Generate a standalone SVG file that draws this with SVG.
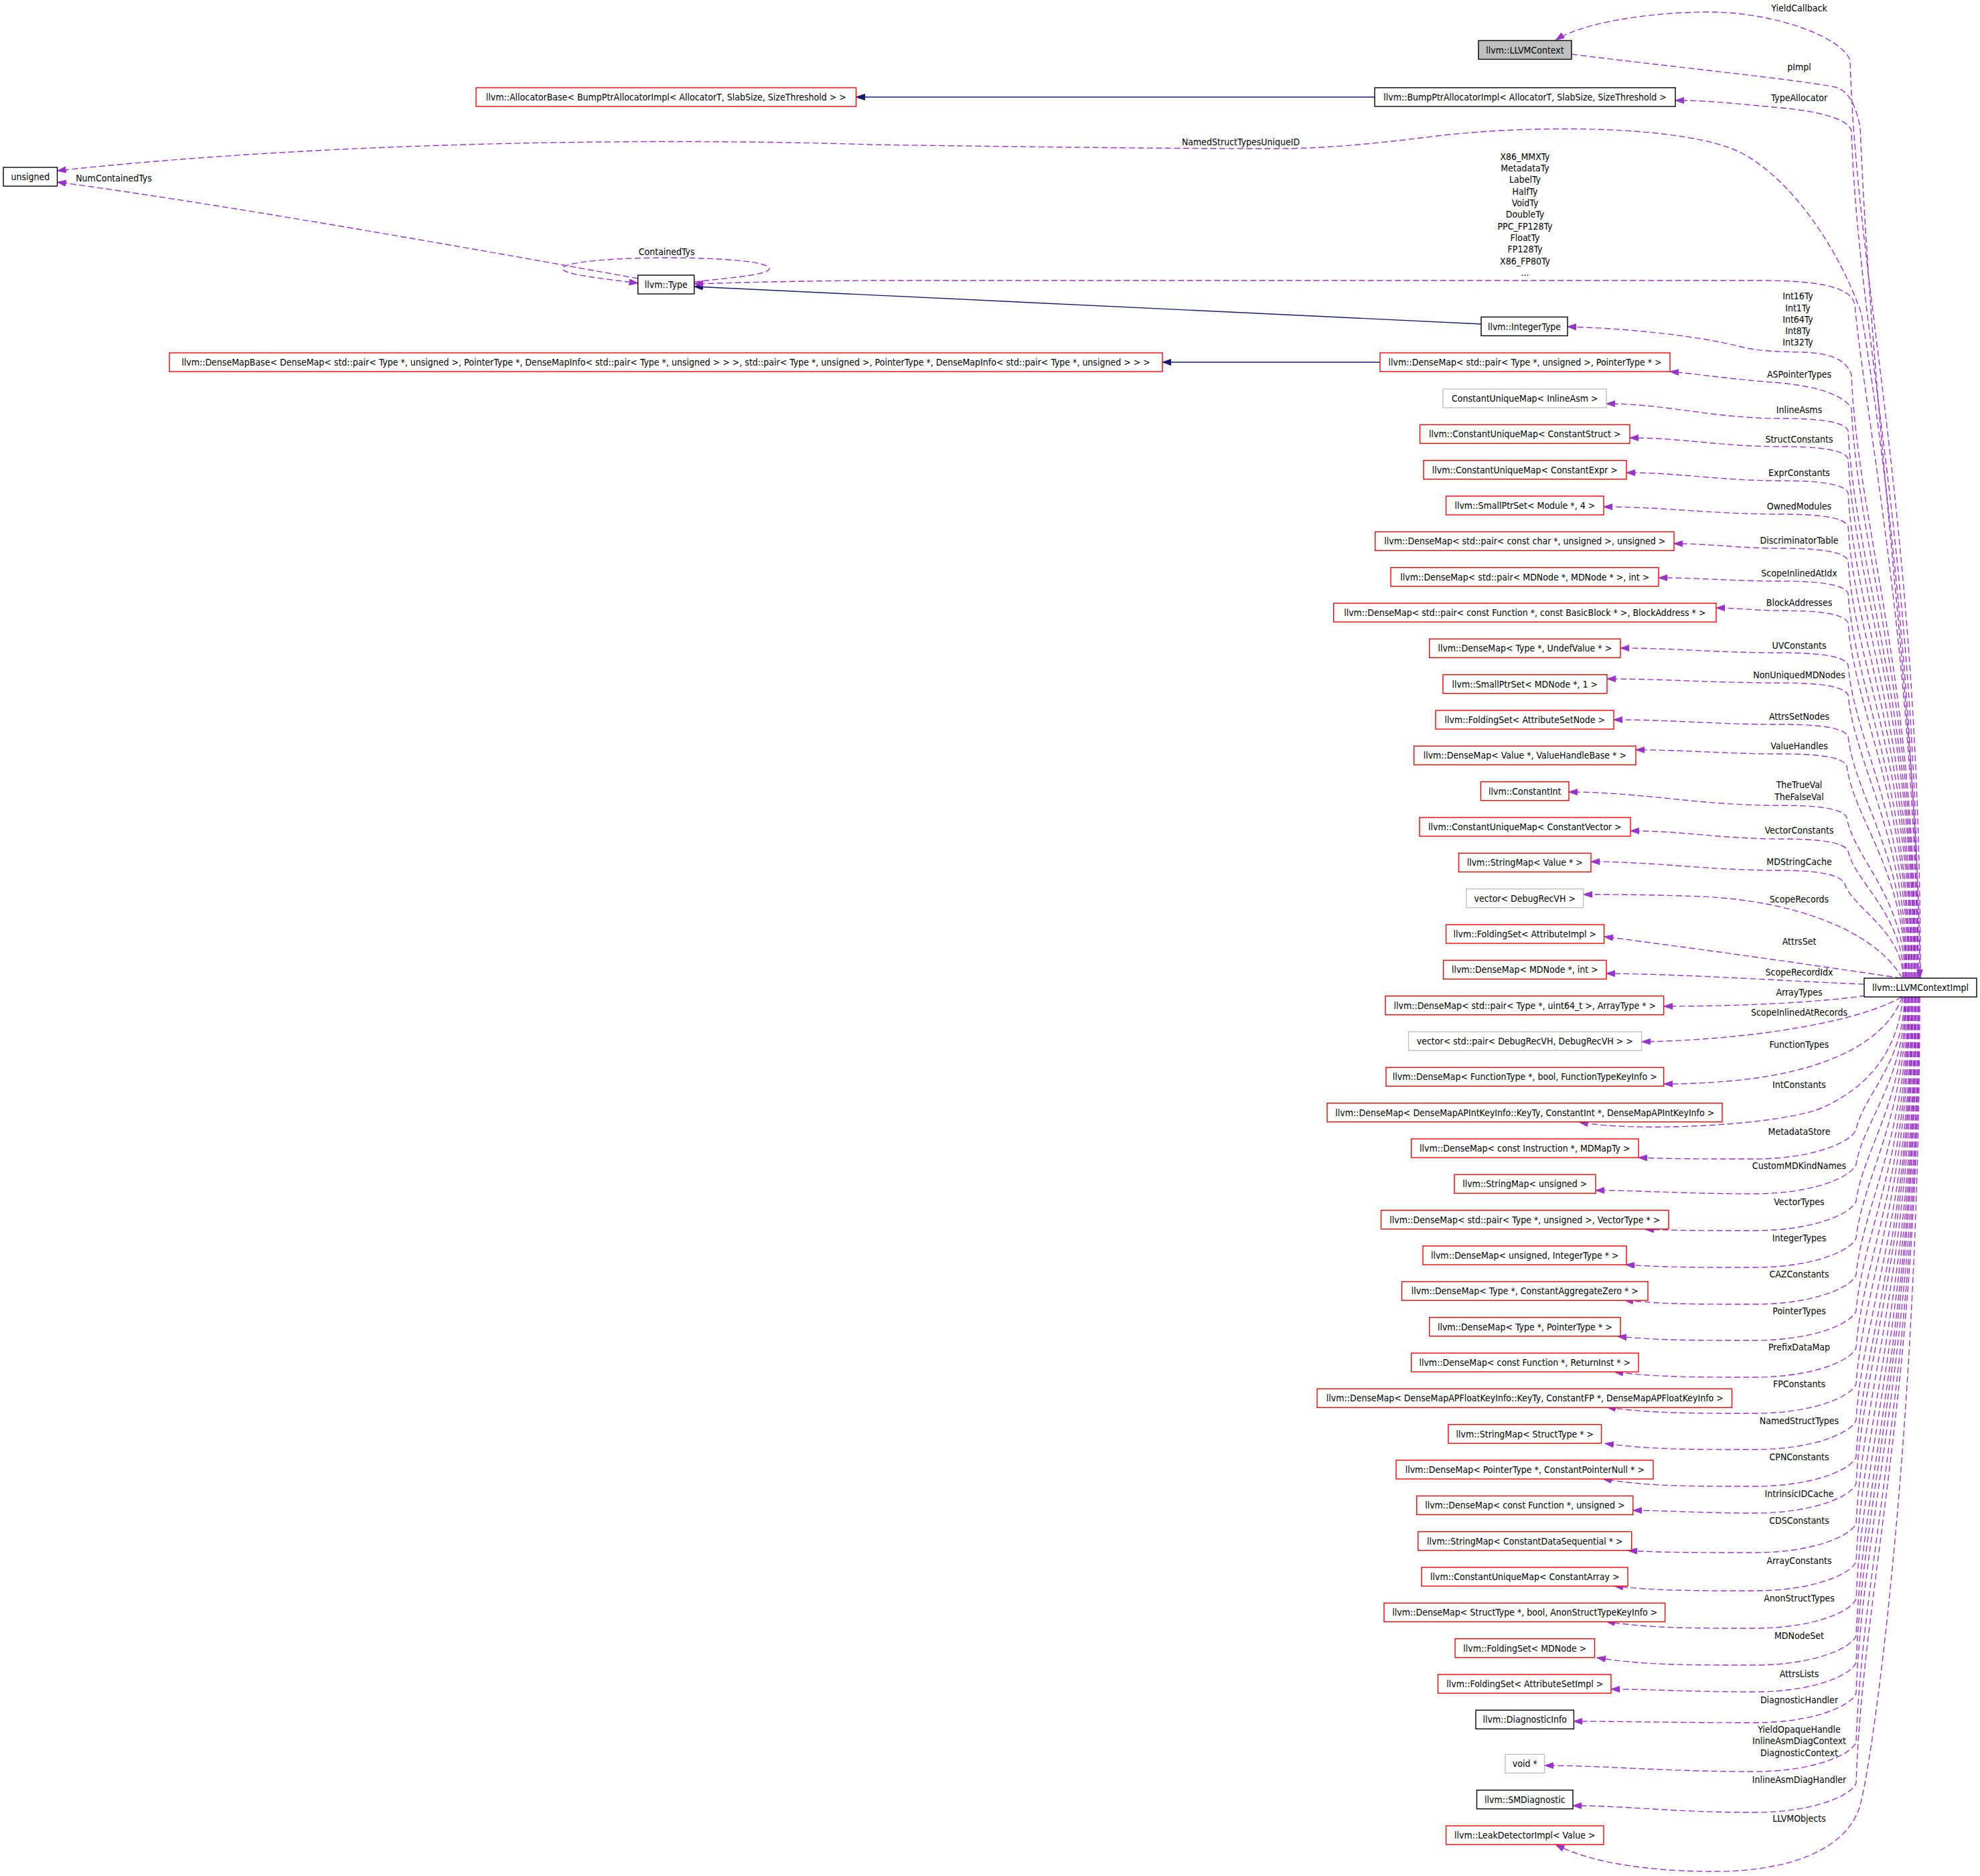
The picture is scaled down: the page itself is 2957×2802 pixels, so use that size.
<svg xmlns="http://www.w3.org/2000/svg" width="2957" height="2802" viewBox="0 0 2957 2802">
<defs>
<style>
text{font-family:"DejaVu Sans Condensed","DejaVu Sans",sans-serif;font-stretch:condensed;font-size:14px;fill:#000;text-anchor:middle}
.nd rect{fill:#fff;stroke-width:1.4}
.r rect{stroke:#ff0000}
.g rect{stroke:#bfbfbf}
.k rect{stroke:#000}
.e path{fill:none;stroke:#9a32cd;stroke-width:1.4;stroke-dasharray:9,4.5;marker-end:url(#ap)}
.i path{fill:none;stroke:#191970;stroke-width:1.4;marker-end:url(#an)}
</style>
<marker id="ap" markerWidth="14" markerHeight="10" refX="13" refY="4.5" orient="auto" markerUnits="userSpaceOnUse"><path d="M0,0 L13,4.5 L0,9 z" fill="#9a32cd" stroke="#9a32cd" stroke-width="1"/></marker>
<marker id="an" markerWidth="14" markerHeight="10" refX="13" refY="4.5" orient="auto" markerUnits="userSpaceOnUse"><path d="M0,0 L13,4.5 L0,9 z" fill="#191970" stroke="#191970" stroke-width="1"/></marker>
</defs>
<rect x="0" y="0" width="2957" height="2802" fill="#fff"/>

<g id="connectors">
<g class="i">
<path d="M2053,145 L1278.5,145"/>
<path d="M2212,484 L1036.7,428"/>
<path d="M2061,541 L1736,541"/>
</g>
<g class="e">
<path d="M2868,1461 C2868,776 2773,433 2763,90 C2750,55 2650,18 2552,18 C2460,18 2360,35 2323.6,60"/>
<path d="M2347,81 C2480,98 2680,118 2740,130 C2762,135 2772,160 2778,190 C2800,700 2867,1100 2867,1461"/>
<path d="M2865,1461 C2865,828 2775,511 2765,195 C2760,180 2730,168 2660,161 C2600,156 2560,150 2502,150"/>
<path d="M2864,1461 C2864,1000 2795,560 2780,469 C2750,380 2680,270 2600,228 C2520,188 2300,185 2146,203 C2050,215 1980,222 1900,222 C1700,222 1450,218 1300,216 C1000,206 500,210 85.5,255"/>
<path d="M2863,1461 C2863,1000 2785,620 2770,455 C2765,432 2730,420 2640,419 L1300,419 C1150,420 1080,423 1036.7,424"/>
<path d="M2861,1461 C2861,1010 2775,790 2765,560 C2758,538 2735,527 2690,526 C2645,525 2625,524 2600,518 C2530,500 2420,490 2341,488"/>
<path d="M2860,1461 C2860,1035 2775,823 2765,610 C2755,592 2720,578 2660,572 C2580,566 2530,558 2494,555"/>
<path d="M952.7,416 C700,370 300,300 85.5,272"/>
<path d="M1036.7,421 C1100,414 1149,410 1149,401 C1149,391 1080,385 995,385 C910,385 840,392 840,401 C840,410 900,416 952.7,423"/>
<path d="M2859,1461 C2859,1052 2770,847 2760,643 C2754,629 2712,625 2660,625 C2556,625 2490,603 2399,603"/>
<path d="M2858,1461 C2858,1073 2770,879 2760,685 C2754,671 2712,667 2660,667 C2570,667 2513,654 2434,654"/>
<path d="M2856,1461 C2856,1098 2770,917 2760,736 C2754,722 2712,718 2660,718 C2568,718 2510,706 2429,706"/>
<path d="M2855,1461 C2855,1124 2770,955 2760,786 C2754,772 2712,768 2660,768 C2554,768 2488,757 2395,757"/>
<path d="M2854,1461 C2854,1149 2770,993 2760,837 C2754,823 2712,819 2660,819 C2596,819 2556,812 2500,812"/>
<path d="M2852,1461 C2852,1174 2770,1030 2760,886 C2754,872 2712,868 2660,868 C2587,868 2541,863 2477,863"/>
<path d="M2851,1461 C2851,1196 2770,1063 2760,930 C2754,916 2712,912 2660,912 C2621,912 2597,908 2563,908"/>
<path d="M2850,1461 C2850,1227 2770,1110 2760,993 C2754,979 2712,975 2660,975 C2564,975 2504,968 2420,968"/>
<path d="M2848,1461 C2848,1250 2770,1144 2760,1038 C2754,1024 2712,1020 2660,1020 C2556,1020 2491,1014 2400,1014"/>
<path d="M2847,1461 C2847,1280 2770,1190 2760,1100 C2754,1086 2712,1082 2660,1082 C2560,1082 2498,1075 2410,1075"/>
<path d="M2846,1461 C2846,1302 2768,1223 2758,1144 C2752,1130 2712,1126 2660,1126 C2573,1126 2519,1120 2443,1120"/>
<path d="M2845,1461 C2845,1341 2768,1281 2758,1221 C2752,1207 2712,1203 2660,1203 C2533,1203 2454,1183 2343,1183"/>
<path d="M2843,1461 C2843,1366 2770,1318 2760,1271 C2754,1257 2712,1253 2660,1253 C2570,1253 2514,1241 2435,1241"/>
<path d="M2842,1461 C2842,1390 2765,1355 2755,1320 C2749,1306 2712,1300 2660,1300 C2546,1300 2475,1287 2376,1287"/>
<path d="M2841,1461 C2800,1390 2680,1345 2540,1339 C2460,1336 2410,1336 2365,1336"/>
<path d="M2839,1461 C2760,1449 2560,1420 2396,1399"/>
<path d="M2784,1470 C2680,1466 2520,1455 2399,1454"/>
<path d="M2786,1487 C2720,1497 2600,1503 2485,1503"/>
<path d="M2840,1489 C2780,1525 2620,1553 2452,1556"/>
<path d="M2841,1489 C2815,1560 2720,1600 2600,1613 C2550,1618 2515,1619 2485,1619"/>
<path d="M2842,1489 C2835,1560 2800,1620 2720,1655 C2660,1680 2450,1692 2358.5,1676"/>
<path d="M2844,1489 C2844,1588 2782,1637 2772,1687 C2766,1705 2710,1731 2620,1731 C2542,1731 2499,1731 2447,1729"/>
<path d="M2845,1489 C2845,1614 2782,1676 2772,1739 C2766,1757 2710,1783 2620,1783 C2513,1783 2454,1778 2383,1778"/>
<path d="M2846,1489 C2846,1642 2782,1718 2772,1794 C2766,1812 2710,1838 2620,1838 C2547,1838 2506,1838 2457,1836"/>
<path d="M2847,1489 C2847,1669 2782,1759 2772,1849 C2766,1867 2710,1893 2620,1893 C2534,1893 2486,1893 2428,1889"/>
<path d="M2849,1489 C2849,1696 2782,1800 2772,1904 C2766,1922 2710,1948 2620,1948 C2533,1948 2484,1948 2426,1942"/>
<path d="M2850,1489 C2850,1724 2782,1841 2772,1958 C2766,1976 2710,2002 2620,2002 C2528,2002 2477,2002 2416,1996"/>
<path d="M2851,1489 C2851,1751 2782,1882 2772,2013 C2766,2031 2710,2057 2620,2057 C2526,2057 2474,2057 2411,2049"/>
<path d="M2852,1489 C2852,1778 2782,1922 2772,2067 C2766,2085 2710,2111 2620,2111 C2521,2111 2466,2111 2400,2102"/>
<path d="M2854,1489 C2854,1805 2782,1963 2772,2121 C2766,2139 2710,2165 2620,2165 C2520,2165 2464,2165 2397,2156"/>
<path d="M2855,1489 C2855,1832 2782,2004 2772,2176 C2766,2194 2710,2220 2620,2220 C2518,2220 2462,2220 2394,2209"/>
<path d="M2856,1489 C2856,1852 2782,2034 2772,2216 C2766,2234 2710,2260 2620,2260 C2538,2260 2493,2256 2439,2256"/>
<path d="M2857,1489 C2857,1882 2782,2078 2772,2275 C2766,2293 2710,2319 2620,2319 C2535,2319 2488,2319 2432,2316"/>
<path d="M2859,1489 C2859,1910 2782,2121 2772,2332 C2766,2350 2710,2376 2620,2376 C2526,2376 2474,2376 2411,2369"/>
<path d="M2860,1489 C2860,1938 2782,2163 2772,2388 C2766,2406 2710,2432 2620,2432 C2520,2432 2465,2432 2399,2422"/>
<path d="M2861,1489 C2861,1966 2782,2204 2772,2443 C2766,2461 2710,2487 2620,2487 C2514,2487 2456,2487 2385,2476"/>
<path d="M2862,1489 C2862,1986 2782,2234 2772,2483 C2766,2501 2710,2527 2620,2527 C2524,2527 2470,2523 2406,2523"/>
<path d="M2864,1489 C2864,2009 2782,2269 2772,2529 C2766,2547 2710,2573 2620,2573 C2499,2573 2431,2571 2350,2571"/>
<path d="M2865,1489 C2865,2045 2782,2324 2772,2602 C2766,2620 2710,2646 2620,2646 C2479,2646 2401,2637 2307,2637"/>
<path d="M2866,1489 C2866,2076 2782,2370 2772,2663 C2766,2681 2710,2707 2620,2707 C2498,2707 2430,2697 2349,2697"/>
<path d="M2867,1489 C2867,2100 2800,2620 2777,2700 C2760,2750 2700,2790 2580,2795 C2480,2797 2380,2785 2323.5,2755"/>
</g>
<g id="edge-labels">
<text x="2687" y="17">YieldCallback</text>
<text x="2687" y="104.5">pImpl</text>
<text x="2687" y="151">TypeAllocator</text>
<text x="1853" y="217">NamedStructTypesUniqueID</text>
<text x="170" y="271">NumContainedTys</text>
<text x="995.7" y="380.5">ContainedTys</text>
<text x="2277.5" y="238.8">X86_MMXTy</text>
<text x="2277.5" y="256.1">MetadataTy</text>
<text x="2277.5" y="273.4">LabelTy</text>
<text x="2277.5" y="290.7">HalfTy</text>
<text x="2277.5" y="308">VoidTy</text>
<text x="2277.5" y="325.3">DoubleTy</text>
<text x="2277.5" y="342.6">PPC_FP128Ty</text>
<text x="2277.5" y="359.9">FloatTy</text>
<text x="2277.5" y="377.2">FP128Ty</text>
<text x="2277.5" y="394.5">X86_FP80Ty</text>
<text x="2277.5" y="411.8">...</text>
<text x="2685" y="447.2">Int16Ty</text>
<text x="2685" y="464.5">Int1Ty</text>
<text x="2685" y="481.8">Int64Ty</text>
<text x="2685" y="499.1">Int8Ty</text>
<text x="2685" y="516.4">Int32Ty</text>
<text x="2687" y="564">ASPointerTypes</text>
<text x="2687" y="617.2">InlineAsms</text>
<text x="2687" y="660.5">StructConstants</text>
<text x="2687" y="711.2">ExprConstants</text>
<text x="2687" y="761.2">OwnedModules</text>
<text x="2687" y="812.2">DiscriminatorTable</text>
<text x="2687" y="861.2">ScopeInlinedAtIdx</text>
<text x="2687" y="905.2">BlockAddresses</text>
<text x="2687" y="968.5">UVConstants</text>
<text x="2687" y="1013.2">NonUniquedMDNodes</text>
<text x="2687" y="1075.2">AttrsSetNodes</text>
<text x="2687" y="1118.8">ValueHandles</text>
<text x="2687" y="1177.2">TheTrueVal</text>
<text x="2687" y="1194.5">TheFalseVal</text>
<text x="2687" y="1245.2">VectorConstants</text>
<text x="2687" y="1292.2">MDStringCache</text>
<text x="2687" y="1348.2">ScopeRecords</text>
<text x="2687" y="1411.2">AttrsSet</text>
<text x="2687" y="1457.2">ScopeRecordIdx</text>
<text x="2687" y="1487.2">ArrayTypes</text>
<text x="2687" y="1517.2">ScopeInlinedAtRecords</text>
<text x="2687" y="1564.5">FunctionTypes</text>
<text x="2687" y="1624.5">IntConstants</text>
<text x="2687" y="1695.2">MetadataStore</text>
<text x="2687" y="1745.5">CustomMDKindNames</text>
<text x="2687" y="1799.5">VectorTypes</text>
<text x="2687" y="1853.5">IntegerTypes</text>
<text x="2687" y="1908.2">CAZConstants</text>
<text x="2687" y="1963.2">PointerTypes</text>
<text x="2687" y="2017.2">PrefixDataMap</text>
<text x="2687" y="2072.2">FPConstants</text>
<text x="2687" y="2127.2">NamedStructTypes</text>
<text x="2687" y="2181.2">CPNConstants</text>
<text x="2687" y="2236.2">IntrinsicIDCache</text>
<text x="2687" y="2276.2">CDSConstants</text>
<text x="2687" y="2335.5">ArrayConstants</text>
<text x="2687" y="2392.2">AnonStructTypes</text>
<text x="2687" y="2447.8">MDNodeSet</text>
<text x="2687" y="2504.5">AttrsLists</text>
<text x="2687" y="2543.8">DiagnosticHandler</text>
<text x="2687" y="2587.8">YieldOpaqueHandle</text>
<text x="2687" y="2605.3">InlineAsmDiagContext</text>
<text x="2687" y="2623">DiagnosticContext</text>
<text x="2687" y="2663.2">InlineAsmDiagHandler</text>
<text x="2687" y="2721.2">LLVMObjects</text>
</g>
</g>

<g id="n_LLVMContext" class="nd k"><rect x="2208" y="60.5" width="139" height="28" style="fill:#bfbfbf"/><text x="2277.5" y="79.5">llvm::LLVMContext</text></g>
<g id="n_BumpPtrAllocatorImpl" class="nd k"><rect x="2053" y="131" width="449" height="28"/><text x="2277.5" y="150">llvm::BumpPtrAllocatorImpl&lt; AllocatorT, SlabSize, SizeThreshold &gt;</text></g>
<g id="n_AllocatorBase" class="nd r"><rect x="711" y="131" width="567.5" height="28"/><text x="994.8" y="150">llvm::AllocatorBase&lt; BumpPtrAllocatorImpl&lt; AllocatorT, SlabSize, SizeThreshold &gt; &gt;</text></g>
<g id="n_unsigned" class="nd k"><rect x="5" y="250" width="80.5" height="28"/><text x="45.3" y="269">unsigned</text></g>
<g id="n_Type" class="nd k"><rect x="952.7" y="411" width="84" height="28"/><text x="994.7" y="430">llvm::Type</text></g>
<g id="n_IntegerType" class="nd k"><rect x="2212" y="473.5" width="129" height="28"/><text x="2276.5" y="492.5">llvm::IntegerType</text></g>
<g id="n_DenseMapBase" class="nd r"><rect x="253" y="527" width="1483" height="28"/><text x="994.5" y="546">llvm::DenseMapBase&lt; DenseMap&lt; std::pair&lt; Type *, unsigned &gt;, PointerType *, DenseMapInfo&lt; std::pair&lt; Type *, unsigned &gt; &gt; &gt;, std::pair&lt; Type *, unsigned &gt;, PointerType *, DenseMapInfo&lt; std::pair&lt; Type *, unsigned &gt; &gt; &gt;</text></g>
<g id="n_DenseMapPairPointerType" class="nd r"><rect x="2061" y="527" width="433" height="28"/><text x="2277.5" y="546">llvm::DenseMap&lt; std::pair&lt; Type *, unsigned &gt;, PointerType * &gt;</text></g>
<g id="n_CUM_InlineAsm" class="nd g"><rect x="2155" y="581" width="244" height="28"/><text x="2277.3" y="600">ConstantUniqueMap&lt; InlineAsm &gt;</text></g>
<g id="n_CUM_ConstantStruct" class="nd r"><rect x="2120.5" y="634.3" width="313.5" height="28"/><text x="2277.3" y="653.3">llvm::ConstantUniqueMap&lt; ConstantStruct &gt;</text></g>
<g id="n_CUM_ConstantExpr" class="nd r"><rect x="2126" y="687.7" width="303" height="28"/><text x="2277.3" y="706.7">llvm::ConstantUniqueMap&lt; ConstantExpr &gt;</text></g>
<g id="n_SmallPtrSet_Module" class="nd r"><rect x="2159.6" y="741" width="235.4" height="28"/><text x="2277.3" y="760">llvm::SmallPtrSet&lt; Module *, 4 &gt;</text></g>
<g id="n_DM_ConstChar" class="nd r"><rect x="2053.7" y="794.3" width="446.3" height="28"/><text x="2277.3" y="813.3">llvm::DenseMap&lt; std::pair&lt; const char *, unsigned &gt;, unsigned &gt;</text></g>
<g id="n_DM_MDNodePair" class="nd r"><rect x="2077" y="847.7" width="400" height="28"/><text x="2277.3" y="866.7">llvm::DenseMap&lt; std::pair&lt; MDNode *, MDNode * &gt;, int &gt;</text></g>
<g id="n_DM_BlockAddress" class="nd r"><rect x="1991.7" y="901" width="571.3" height="28"/><text x="2277.3" y="920">llvm::DenseMap&lt; std::pair&lt; const Function *, const BasicBlock * &gt;, BlockAddress * &gt;</text></g>
<g id="n_DM_UndefValue" class="nd r"><rect x="2134.7" y="954.3" width="285.3" height="28"/><text x="2277.3" y="973.3">llvm::DenseMap&lt; Type *, UndefValue * &gt;</text></g>
<g id="n_SmallPtrSet_MDNode" class="nd r"><rect x="2155" y="1007.7" width="245" height="28"/><text x="2277.3" y="1026.7">llvm::SmallPtrSet&lt; MDNode *, 1 &gt;</text></g>
<g id="n_FS_AttributeSetNode" class="nd r"><rect x="2144" y="1061" width="266" height="28"/><text x="2277.3" y="1080">llvm::FoldingSet&lt; AttributeSetNode &gt;</text></g>
<g id="n_DM_ValueHandle" class="nd r"><rect x="2111.7" y="1114.3" width="331.3" height="28"/><text x="2277.3" y="1133.3">llvm::DenseMap&lt; Value *, ValueHandleBase * &gt;</text></g>
<g id="n_ConstantInt" class="nd r"><rect x="2211.5" y="1167.7" width="131.5" height="28"/><text x="2277.3" y="1186.7">llvm::ConstantInt</text></g>
<g id="n_CUM_ConstantVector" class="nd r"><rect x="2120" y="1221" width="315" height="28"/><text x="2277.3" y="1240">llvm::ConstantUniqueMap&lt; ConstantVector &gt;</text></g>
<g id="n_SM_Value" class="nd r"><rect x="2178.5" y="1274.3" width="197.5" height="28"/><text x="2277.3" y="1293.3">llvm::StringMap&lt; Value * &gt;</text></g>
<g id="n_vector_DebugRecVH" class="nd g"><rect x="2190" y="1327.7" width="174.6" height="28"/><text x="2277.3" y="1346.7">vector&lt; DebugRecVH &gt;</text></g>
<g id="n_FS_AttributeImpl" class="nd r"><rect x="2159.6" y="1381" width="236" height="28"/><text x="2277.3" y="1400">llvm::FoldingSet&lt; AttributeImpl &gt;</text></g>
<g id="n_DM_MDNodeInt" class="nd r"><rect x="2155.6" y="1434.3" width="243.4" height="28"/><text x="2277.3" y="1453.3">llvm::DenseMap&lt; MDNode *, int &gt;</text></g>
<g id="n_DM_ArrayType" class="nd r"><rect x="2069" y="1487.7" width="415.6" height="28"/><text x="2277.3" y="1506.7">llvm::DenseMap&lt; std::pair&lt; Type *, uint64_t &gt;, ArrayType * &gt;</text></g>
<g id="n_vector_pair" class="nd g"><rect x="2103.6" y="1541" width="348" height="28"/><text x="2277.3" y="1560">vector&lt; std::pair&lt; DebugRecVH, DebugRecVH &gt; &gt;</text></g>
<g id="n_DM_FunctionType" class="nd r"><rect x="2070" y="1594.3" width="414.6" height="28"/><text x="2277.3" y="1613.3">llvm::DenseMap&lt; FunctionType *, bool, FunctionTypeKeyInfo &gt;</text></g>
<g id="n_DM_APInt" class="nd r"><rect x="1982" y="1647.7" width="590" height="28"/><text x="2277.3" y="1666.7">llvm::DenseMap&lt; DenseMapAPIntKeyInfo::KeyTy, ConstantInt *, DenseMapAPIntKeyInfo &gt;</text></g>
<g id="n_DM_MDMapTy" class="nd r"><rect x="2107.7" y="1701" width="339.3" height="28"/><text x="2277.3" y="1720">llvm::DenseMap&lt; const Instruction *, MDMapTy &gt;</text></g>
<g id="n_SM_unsigned" class="nd r"><rect x="2172" y="1754.3" width="211" height="28"/><text x="2277.3" y="1773.3">llvm::StringMap&lt; unsigned &gt;</text></g>
<g id="n_DM_VectorType" class="nd r"><rect x="2062.5" y="1807.7" width="429.5" height="28"/><text x="2277.3" y="1826.7">llvm::DenseMap&lt; std::pair&lt; Type *, unsigned &gt;, VectorType * &gt;</text></g>
<g id="n_DM_IntegerType" class="nd r"><rect x="2125" y="1861" width="304" height="28"/><text x="2277.3" y="1880">llvm::DenseMap&lt; unsigned, IntegerType * &gt;</text></g>
<g id="n_DM_CAZ" class="nd r"><rect x="2093.5" y="1914.3" width="367.5" height="28"/><text x="2277.3" y="1933.3">llvm::DenseMap&lt; Type *, ConstantAggregateZero * &gt;</text></g>
<g id="n_DM_PointerType" class="nd r"><rect x="2134.7" y="1967.7" width="285.3" height="28"/><text x="2277.3" y="1986.7">llvm::DenseMap&lt; Type *, PointerType * &gt;</text></g>
<g id="n_DM_ReturnInst" class="nd r"><rect x="2107.7" y="2021" width="339.3" height="28"/><text x="2277.3" y="2040">llvm::DenseMap&lt; const Function *, ReturnInst * &gt;</text></g>
<g id="n_DM_APFloat" class="nd r"><rect x="1967" y="2074.3" width="619.5" height="28"/><text x="2277.3" y="2093.3">llvm::DenseMap&lt; DenseMapAPFloatKeyInfo::KeyTy, ConstantFP *, DenseMapAPFloatKeyInfo &gt;</text></g>
<g id="n_SM_StructType" class="nd r"><rect x="2163" y="2127.7" width="228.6" height="28"/><text x="2277.3" y="2146.7">llvm::StringMap&lt; StructType * &gt;</text></g>
<g id="n_DM_CPN" class="nd r"><rect x="2085" y="2181" width="384" height="28"/><text x="2277.3" y="2200">llvm::DenseMap&lt; PointerType *, ConstantPointerNull * &gt;</text></g>
<g id="n_DM_FunctionUnsigned" class="nd r"><rect x="2115.8" y="2234.3" width="323" height="28"/><text x="2277.3" y="2253.3">llvm::DenseMap&lt; const Function *, unsigned &gt;</text></g>
<g id="n_SM_CDS" class="nd r"><rect x="2117.8" y="2287.7" width="318.9" height="28"/><text x="2277.3" y="2306.7">llvm::StringMap&lt; ConstantDataSequential * &gt;</text></g>
<g id="n_CUM_ConstantArray" class="nd r"><rect x="2123" y="2341" width="308" height="28"/><text x="2277.3" y="2360">llvm::ConstantUniqueMap&lt; ConstantArray &gt;</text></g>
<g id="n_DM_AnonStruct" class="nd r"><rect x="2067" y="2394.3" width="419.6" height="28"/><text x="2277.3" y="2413.3">llvm::DenseMap&lt; StructType *, bool, AnonStructTypeKeyInfo &gt;</text></g>
<g id="n_FS_MDNode" class="nd r"><rect x="2173" y="2447.7" width="208.5" height="28"/><text x="2277.3" y="2466.7">llvm::FoldingSet&lt; MDNode &gt;</text></g>
<g id="n_FS_AttributeSetImpl" class="nd r"><rect x="2147.5" y="2501" width="258.5" height="28"/><text x="2277.3" y="2520">llvm::FoldingSet&lt; AttributeSetImpl &gt;</text></g>
<g id="n_DiagnosticInfo" class="nd k"><rect x="2204" y="2554.3" width="146.4" height="28"/><text x="2277.3" y="2573.3">llvm::DiagnosticInfo</text></g>
<g id="n_void" class="nd g"><rect x="2248" y="2620.3" width="58.6" height="28"/><text x="2277.3" y="2639.3">void *</text></g>
<g id="n_SMDiagnostic" class="nd k"><rect x="2205.5" y="2673.7" width="143.5" height="28"/><text x="2277.3" y="2692.7">llvm::SMDiagnostic</text></g>
<g id="n_LeakDetectorImpl" class="nd r"><rect x="2159.6" y="2727" width="235.4" height="28"/><text x="2277.3" y="2746">llvm::LeakDetectorImpl&lt; Value &gt;</text></g>
<g id="n_LLVMContextImpl" class="nd k"><rect x="2784" y="1461" width="168" height="28"/><text x="2868" y="1480">llvm::LLVMContextImpl</text></g>
</svg>
